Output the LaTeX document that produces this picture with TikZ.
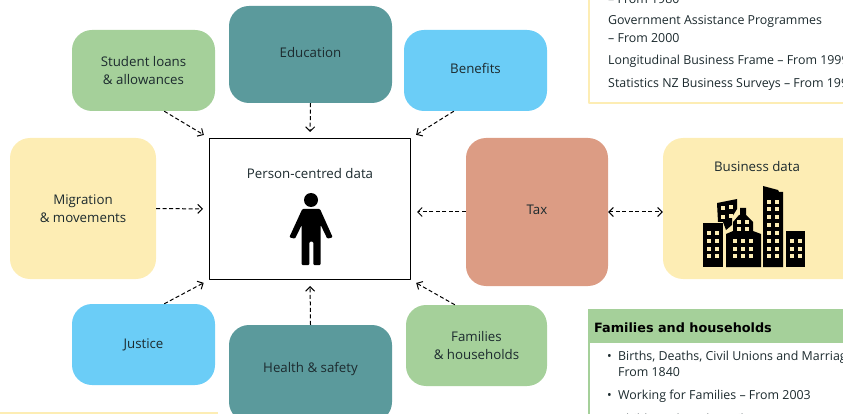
\documentclass[tikz,border=0pt]{standalone}
\usepackage{fontspec}
\usetikzlibrary{arrows.meta}
\setmainfont{Open Sans}
\newfontfamily\headfont{DejaVu Sans}
\definecolor{teal}{HTML}{5B9A9C}
\definecolor{leaf}{HTML}{A5D09A}
\definecolor{sky}{HTML}{6BCDF7}
\definecolor{cream}{HTML}{FDEDB4}
\definecolor{clay}{HTML}{DC9C84}
\definecolor{ink}{HTML}{1C2A2E}
\tikzset{
  box/.style={rounded corners=20pt,inner sep=0pt,align=center,text=ink,font=\fontsize{13.3}{18}\selectfont},
  flow/.style={line width=1pt,dash pattern=on 4pt off 2.5pt,-{Straight Barb[length=4.5pt,width=9pt]},shorten >=6pt},
  panel/.style={anchor=west,inner sep=0pt,text=ink,font=\fontsize{12.4}{16}\selectfont},
}
\begin{document}
\begin{tikzpicture}[x=1pt,y=-1pt,line join=round]
  \clip (0,0) rectangle (843,414);
  % source boxes
  \node[box,fill=teal,minimum width=163pt,minimum height=97pt] (education) at (310.5,54.5) {\raisebox{5pt}{Education}};
  \node[box,fill=leaf,minimum width=143pt,minimum height=81pt] (loans) at (143.5,70.5) {Student loans\\\& allowances};
  \node[box,fill=sky,minimum width=143pt,minimum height=81pt] (benefits) at (475.5,70.5) {\raisebox{5pt}{Benefits}};
  \node[box,fill=cream,minimum width=146pt,minimum height=141pt] (migration) at (83,208.5) {Migration\\\& movements};
  \node[box,fill=clay,minimum width=142pt,minimum height=148pt] (tax) at (537,212) {\raisebox{5pt}{Tax}};
  \node[box,fill=cream,minimum width=220pt,minimum height=141pt] (business) at (773,208.5) {};
  \node[box,fill=sky,minimum width=143pt,minimum height=81pt] (justice) at (143.5,344.5) {Justice};
  \node[box,fill=teal,minimum width=163pt,minimum height=97pt] (health) at (310.5,373.5) {\raisebox{13pt}{Health \& safety}};
  \node[box,fill=leaf,minimum width=141pt,minimum height=81pt] (families) at (476.5,345.5) {Families\\\& households};
  % centre
  \node[draw=black,line width=1pt,fill=white,minimum width=201pt,minimum height=141pt,inner sep=0pt] (person) at (310,209) {};
  \node[box] (persontext) at (310,174) {Person-centred data};
  \node[box] (businesstext) at (757,167) {Business data};
  % arrows
  \draw[flow] (education.south) -- (person.north);
  \draw[flow] (loans.-63) -- (person.north west);
  \draw[flow] (benefits.-118) -- (person.north east);
  \draw[flow] (migration.east) -- (person.west);
  \draw[flow] (tax.west) -- (person.east |- tax.west);
  \draw[flow] (justice.63) -- (person.south west);
  \draw[flow] (health.north) -- (person.south);
  \draw[flow] (families.118) -- (person.south east);
  \draw[flow,{Straight Barb[length=4.5pt,width=9pt]}-{Straight Barb[length=4.5pt,width=9pt]},shorten >=0pt] (tax.east) -- (business.west |- tax.east);
  % figure
  \fill (311,200) circle (7);
  \fill[rounded corners=1pt] (302.3,209) -- (289.3,237.3) -- (295,238.7) -- (301.7,225) -- (301.7,265) -- (309.3,265) -- (309.3,241.7) -- (313.3,241.7) -- (313.3,265) -- (320.7,265) -- (320.7,225) -- (327.3,238.7) -- (332.7,237.3) -- (320,209) -- cycle;
  % city
  \fill (703,223) rectangle (723,267);
  \fill (786,231) rectangle (805,267);
  \fill (763,186) -- (778,190) -- (779,192) -- (783,192) -- (783,267) -- (763,267) -- cycle;
  \fill (726,267) -- (726,234) -- (733,231) -- (733,222) -- (739,215) -- (740,215) -- (740,208) -- (746,208) -- (746,215) -- (753,222) -- (753,231) -- (761,234) -- (761,267) -- cycle;
  \fill (717,203) -- (737,199) -- (737,209) -- (732,217) -- (732,225) -- (726,230) -- (723,222) -- (718,222) -- cycle;
  \foreach \x in {709,717} \foreach \y in {233,240.7,248.7,256.3}
    \fill[cream] (\x-2,\y-2) rectangle (\x+2,\y+2);
  \foreach \x in {791.7,799.7} \foreach \y in {240.7,248.7,256.3}
    \fill[cream] (\x-2,\y-2) rectangle (\x+2,\y+2);
  \foreach \x in {769,777} \foreach \y in {201.7,209.3,217.3,225,233,240.7,248.7,256.3}
    \fill[cream] (\x-2,\y-2) rectangle (\x+2,\y+2);
  \foreach \x in {735,743,751} \foreach \y in {240.7,248.7,256.3}
    \fill[cream] (\x-2,\y-2) rectangle (\x+2,\y+2);
  \foreach \x in {739,747} \foreach \y in {221.7,229.3}
    \fill[cream] (\x-2,\y-2) rectangle (\x+2,\y+2);
  \foreach \x/\y in {722.7/208.3,730.7/207,722.7/217.3,730.7/216}
    \fill[cream] (\x-2,\y-2) rectangle (\x+2,\y+2);
  % side panels
  \draw[cream,line width=2pt] (589,-5) -- (589,103) -- (850,103);
  \node[panel] (old) at (608,-0.5) {– From 1980};
  \node[panel] (gov) at (608,21.5) {Government Assistance Programmes};
  \node[panel] (govyear) at (608,38) {– From 2000};
  \node[panel] (frame) at (608,61.5) {Longitudinal Business Frame – From 1999};
  \node[panel] (surveys) at (608,84.5) {Statistics NZ Business Surveys – From 1999};
  \fill[leaf] (588,309) rectangle (850,343);
  \fill[leaf] (588,343) rectangle (590,420);
  \node[panel,text=black,font=\fontsize{12.8}{16}\headfont\bfseries] (head) at (594,327.5) {Families and households};
  \node[panel] (dot1) at (607,357.5) {•};
  \node[panel] (births) at (618,357.5) {Births, Deaths, Civil Unions and Marriages –};
  \node[panel] (birthsyear) at (618,372) {From 1840};
  \node[panel] (dot2) at (607,396) {•};
  \node[panel] (working) at (618,396) {Working for Families – From 2003};
  \node[panel] (dot3) at (607,420) {•};
  \node[panel] (child) at (618,420) {Child Youth and Family – From 1991};
  \fill[cream] (0,412) rectangle (218,416);
\end{tikzpicture}
\end{document}
